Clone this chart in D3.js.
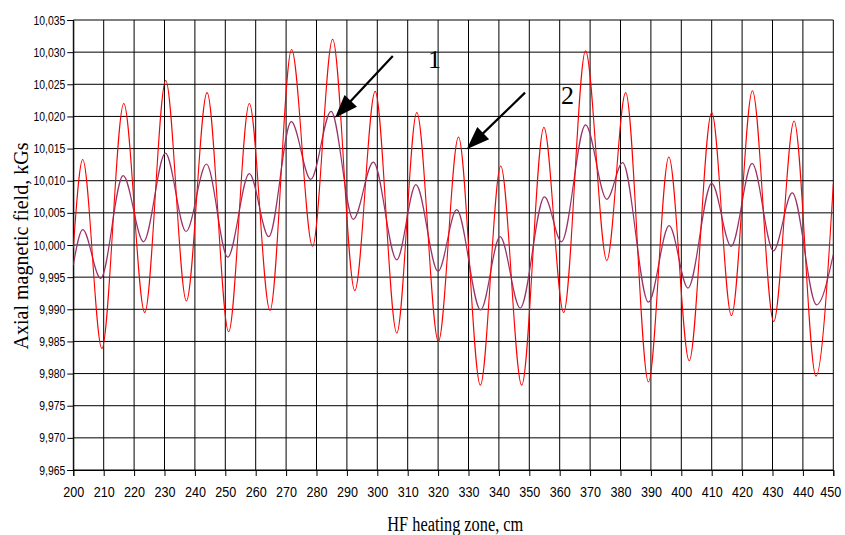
<!DOCTYPE html>
<html><head><meta charset="utf-8">
<script src="https://cdn.jsdelivr.net/npm/d3@7"></script>
<style>body{margin:0;background:#fff}</style>
</head><body>
<svg id="c" width="845" height="535"></svg>
<script>
// ---- data ----
const xTickValues = [200,210,220,230,240,250,260,270,280,290,300,310,320,330,340,350,360,370,380,390,400,410,420,430,440,450];
const yTickValues = [9.965,9.970,9.975,9.980,9.985,9.990,9.995,10.000,10.005,10.010,10.015,10.020,10.025,10.030,10.035];
const yTickLabels = ["9,965","9,970","9,975","9,980","9,985","9,990","9,995","10,000","10,005","10,010","10,015","10,020","10,025","10,030","10,035"];

const redX = [200,203.1,209.4,216.6,223.5,230.4,237.2,244.0,251.1,257.9,264.7,271.8,278.7,285.3,292.6,299.3,306.4,313.0,320.1,326.7,333.9,340.6,347.5,354.8,361.3,368.5,375.5,381.7,389.2,395.9,402.6,410.0,416.5,423.4,430.4,437.1,444.3,450];
const redY = [9.9995,10.0133,9.9839,10.0220,9.9895,10.0256,9.9913,10.0237,9.9865,10.0220,9.9898,10.0304,9.9998,10.0320,9.9929,10.0239,9.9863,10.0206,9.9850,10.0168,9.9782,10.0123,9.9782,10.0183,9.9895,10.0302,9.9976,10.0237,9.9787,10.0137,9.9820,10.0206,9.9890,10.0240,9.9881,10.0193,9.9796,10.0095];

const purpleX = [200,203.1,209.0,216.4,223.1,230.3,237.1,243.8,250.8,257.9,264.3,271.7,278.1,284.8,292.1,298.7,306.4,312.7,320.0,326.1,334.0,340.4,347.0,355.0,360.6,368.5,375.5,380.7,389.2,396.0,402.2,410.0,416.4,423.3,430.3,436.5,444.5,450];
const purpleY = [9.9969,10.0024,9.9948,10.0108,10.0005,10.0143,10.0021,10.0126,9.9981,10.0111,10.0013,10.0192,10.0102,10.0208,10.0040,10.0129,9.9977,10.0094,9.9959,10.0055,9.9899,10.0013,9.9902,10.0075,10.0005,10.0187,10.0071,10.0128,9.9911,10.0030,9.9933,10.0096,9.9998,10.0127,9.9991,10.0081,9.9907,9.9985];

const annLabels = ["1","2"];
const annTipX = [286.1,329.4], annTipY = [10.0198,10.0149];
const annFromX = [305.1,348.6], annFromY = [10.0294,10.0237];
const annTextX = [318.8,362.6], annTextY = [10.0289,10.0233];

const xTitle = "HF heating zone, cm";
const yTitle = "Axial magnetic field, kGs";

// ---- layout ----
const svg = d3.select("#c");
const L = 73.3, R = 833.3, T = 20, B = 470;
const x = d3.scaleLinear().domain([200,450]).range([L,R]);
const y = d3.scaleLinear().domain([9.965,10.035]).range([B,T]);

const grid = svg.append("g");
grid.selectAll("line.h").data(yTickValues).join("line")
  .attr("x1",L).attr("x2",R).attr("y1",d=>y(d)).attr("y2",d=>y(d))
  .attr("stroke","#000").attr("stroke-width",1);
grid.selectAll("line.v").data(xTickValues).join("line")
  .attr("y1",T).attr("y2",B).attr("x1",d=>x(d)).attr("x2",d=>x(d))
  .attr("stroke","#000").attr("stroke-width",1);

// axes
const xAxis = svg.append("g").attr("transform",`translate(0,${B})`)
  .call(d3.axisBottom(x).tickValues(xTickValues).tickSize(6).tickPadding(10));
xAxis.select(".domain").attr("stroke","#000");
xAxis.selectAll("text").attr("font-family","Liberation Sans, Arial, sans-serif")
  .attr("font-size",15.5).attr("fill","#000").attr("dy","0.71em")
  .attr("textLength",21).attr("lengthAdjust","spacingAndGlyphs")
  .attr("x",(d)=> d===450 ? -3 : 0);

const yAxis = svg.append("g").attr("transform",`translate(${L},0)`)
  .call(d3.axisLeft(y).tickValues(yTickValues).tickFormat((d,i)=>yTickLabels[i]).tickSize(6).tickPadding(2));
yAxis.select(".domain").attr("stroke","#000");
yAxis.selectAll("text").attr("font-family","Liberation Sans, Arial, sans-serif")
  .attr("font-size",12.5).attr("fill","#000")
  .each(function(){ const w=this.getComputedTextLength(); d3.select(this).attr("textLength",w*0.83).attr("lengthAdjust","spacingAndGlyphs"); });

// curves
svg.append("clipPath").attr("id","clip").append("rect").attr("x",L).attr("y",T).attr("width",R-L).attr("height",B-T);
const line = d3.line().x(d=>x(d[0])).y(d=>y(d[1])).curve(d3.curveMonotoneX);
const purple = purpleX.map((v,i)=>[v,purpleY[i]]);
const red = redX.map((v,i)=>[v,redY[i]]);
svg.append("path").attr("d",line(purple)).attr("fill","none").attr("stroke","#993366").attr("stroke-width",1.2).attr("clip-path","url(#clip)");
svg.append("path").attr("d",line(red)).attr("fill","none").attr("stroke","#ff0000").attr("stroke-width",1.1).attr("clip-path","url(#clip)");

// annotations
annLabels.forEach((lab,i)=>{
  const x0=x(annFromX[i]), y0=y(annFromY[i]), x1=x(annTipX[i]), y1=y(annTipY[i]);
  const dx=x1-x0, dy=y1-y0, len=Math.hypot(dx,dy), ux=dx/len, uy=dy/len;
  const hl=23, hw=8.5;
  const bx=x1-ux*hl, by=y1-uy*hl;
  svg.append("line").attr("x1",x0).attr("y1",y0).attr("x2",bx+ux*2).attr("y2",by+uy*2)
    .attr("stroke","#000").attr("stroke-width",2.2);
  svg.append("polygon").attr("points",[[x1,y1],[bx-uy*hw,by+ux*hw],[bx+uy*hw,by-ux*hw]].map(p=>p.join(",")).join(" "))
    .attr("fill","#000");
  svg.append("text").attr("x",x(annTextX[i])).attr("y",y(annTextY[i])).attr("dy","0.35em")
    .attr("text-anchor","middle").attr("font-family","Liberation Serif, Times New Roman, serif")
    .attr("font-size",26).attr("fill","#000").text(lab);
});

// titles
svg.append("text").attr("x",(L+R)/2+2).attr("y",531).attr("text-anchor","middle")
  .attr("font-family","Liberation Serif, Times New Roman, serif").attr("font-size",20).attr("fill","#000")
  .attr("textLength",136).attr("lengthAdjust","spacingAndGlyphs").text(xTitle);
svg.append("text").attr("transform","translate(28,246) rotate(-90)").attr("text-anchor","middle")
  .attr("font-family","Liberation Serif, Times New Roman, serif").attr("font-size",20).attr("fill","#000")
  .attr("textLength",207).attr("lengthAdjust","spacingAndGlyphs").text(yTitle);
</script>
</body></html>
